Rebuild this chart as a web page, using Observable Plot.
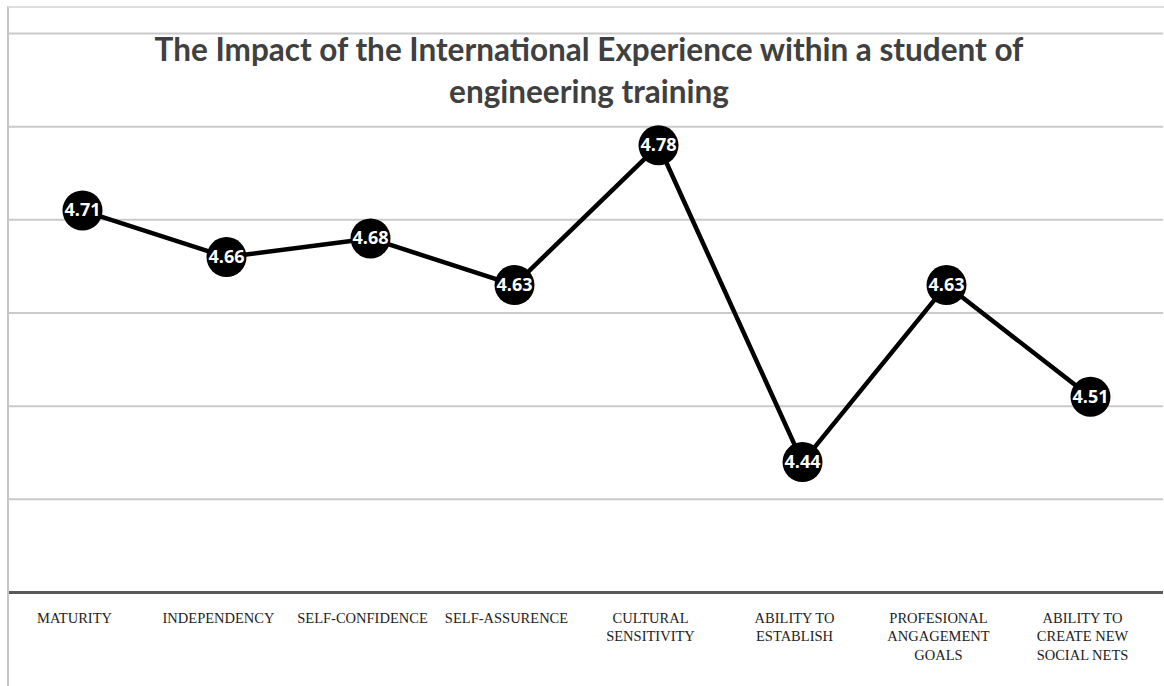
<!DOCTYPE html>
<html><head><meta charset="utf-8">
<script src="https://cdn.jsdelivr.net/npm/d3@7"></script>
<script src="https://cdn.jsdelivr.net/npm/@observablehq/plot@0.6"></script>
<style>
body{margin:0;background:#fff;}
#wrap{position:relative;width:1164px;height:686px;overflow:hidden;background:#fff;}
#border{position:absolute;left:7px;top:6px;right:0;bottom:0;border-left:2px solid #c6c6c6;border-top:2px solid #dedede;pointer-events:none}
#title{position:absolute;left:7px;width:1164px;top:28px;text-align:center;font-family:Lato,"Open Sans",sans-serif;font-weight:bold;font-size:31.5px;color:#404040;line-height:42px;}
</style></head>
<body><div id="wrap"><div id="chart"></div><div id="border"></div><div id="title">The Impact of the International Experience within a student of<br>engineering training</div></div>
<script>
const categories = ["MATURITY","INDEPENDENCY","SELF-CONFIDENCE","SELF-ASSURENCE","CULTURAL SENSITIVITY","ABILITY TO ESTABLISH","PROFESIONAL ANGAGEMENT GOALS","ABILITY TO CREATE NEW SOCIAL NETS"];
const tickLabels = ["MATURITY","INDEPENDENCY","SELF-CONFIDENCE","SELF-ASSURENCE","CULTURAL\nSENSITIVITY","ABILITY TO\nESTABLISH","PROFESIONAL\nANGAGEMENT\nGOALS","ABILITY TO\nCREATE NEW\nSOCIAL NETS"];
const values = [4.71,4.66,4.68,4.63,4.78,4.44,4.63,4.51];
const gridValues = [4.4,4.5,4.6,4.7,4.8,4.9];
const yDomain = [4.3,4.9];

const data = categories.map((c,i)=>({category:c, value:values[i]}));
const labelOf = new Map(categories.map((c,i)=>[c,tickLabels[i]]));

const chart = Plot.plot({
  width:1164, height:686,
  marginTop:33, marginBottom:94, marginLeft:8, marginRight:1,
  style:{fontFamily:"'Liberation Serif', serif", background:"transparent"},
  x:{type:"point", domain:categories, padding:0.5},
  y:{domain:yDomain, axis:null},
  marks:[
    Plot.ruleY(gridValues,{stroke:"#cacaca",strokeWidth:2}),
    Plot.ruleY([yDomain[0]],{stroke:"#595959",strokeWidth:3}),
    Plot.axisX({tickSize:0, tickPadding:17, dx:-8, tickFormat:d=>labelOf.get(d), fontSize:14.5, lineHeight:1.29, fill:"#222", fontFamily:"'Liberation Serif', serif", label:null}),
    Plot.line(data,{x:"category", y:"value", stroke:"#000", strokeWidth:4.5}),
    Plot.dot(data,{x:"category", y:"value", r:20, fill:"#000", stroke:"none"}),
    Plot.text(data,{x:"category", y:"value", text:d=>d.value.toFixed(2), fill:"#fff", fontWeight:"bold", fontSize:18, fontFamily:"'Open Sans', sans-serif"})
  ]
});
document.getElementById("chart").appendChild(chart);
</script>
</body></html>
